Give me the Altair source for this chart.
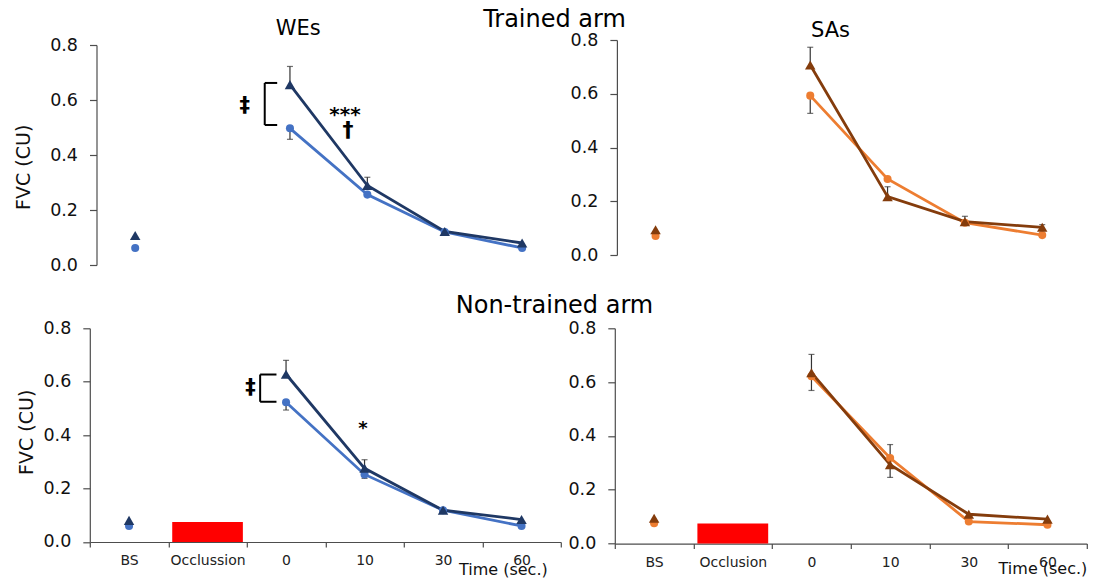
import altair as alt
import pandas as pd

FONT = "DejaVu Sans"
AX = "#4d4d4d"
ERR = "#333333"

# ---------------- data ----------------
x_positions = [0, 1, 2, 3, 4, 5]
labels_we = ["BS", "Occlussion", "0", "10", "30", "60"]
labels_sa = ["BS", "Occlusion", "0", "10", "30", "60"]
y_ticks = [0.0, 0.2, 0.4, 0.6, 0.8]

# Trained arm - WEs (triangles: dark navy, circles: light blue)
we_trained_tri = [0.107, None, 0.656, 0.289, 0.122, 0.080]
we_trained_circ = [0.062, None, 0.497, 0.256, 0.120, 0.062]
we_trained_tri_err = [None, None, 0.066, 0.030, None, None]      # + up / - down
we_trained_circ_err = [None, None, -0.040, None, None, None]

# Trained arm - SAs (triangles: brown, circles: orange)
sa_trained_tri = [0.094, None, 0.707, 0.217, 0.124, 0.103]
sa_trained_circ = [0.071, None, 0.593, 0.283, 0.120, 0.074]
sa_trained_tri_err = [None, None, 0.066, 0.037, 0.020, 0.010]
sa_trained_circ_err = [None, None, -0.066, None, None, None]

# Non-trained arm - WEs
we_non_tri = [0.081, None, 0.628, 0.276, 0.119, 0.084]
we_non_circ = [0.060, None, 0.523, 0.253, 0.119, 0.060]
we_non_tri_err = [None, None, 0.052, 0.032, None, None]
we_non_circ_err = [None, None, -0.029, -0.015, None, None]

# Non-trained arm - SAs
sa_non_tri = [0.094, None, 0.635, 0.293, 0.109, 0.091]
sa_non_circ = [0.076, None, 0.622, 0.318, 0.082, 0.070]
sa_non_tri_err = [None, None, 0.068, -0.047, None, None]
sa_non_circ_err = [None, None, -0.053, 0.050, None, None]

# occlusion period (red bar), in category units / FVC units
occlusion_x = [0.55, 1.45]
occlusion_y = [0.0, 0.075]

# significance annotations (category units, FVC units)
we_trained_notes = [("‡", 1.416, 0.578), ("***", 2.71, 0.545), ("†", 2.75, 0.49)]
we_trained_bracket = [1.674, 1.835, 0.662, 0.509]
we_non_notes = [("‡", 1.547, 0.575), ("*", 2.98, 0.423)]
we_non_bracket = [1.67, 1.878, 0.627, 0.525]
note_sizes = {"‡": 21, "***": 20, "†": 22, "*": 18}

DARK_BLUE, LIGHT_BLUE = "#1f3864", "#4472c4"
BROWN, ORANGE = "#843c0c", "#ed7d31"


def series_df(vals, errs):
    rows = []
    for x, v, e in zip(x_positions, vals, errs):
        if v is None:
            continue
        rows.append({"x": x, "y": v, "e": (v + e) if e is not None else None})
    return pd.DataFrame(rows)


def y_axis(offset, title, tx, ty):
    kw = dict(values=y_ticks, format=".1f", tickSize=7, labelPadding=12,
              labelFontSize=17.5, labelColor="#111", labelFont=FONT,
              domainColor=AX, tickColor=AX, domainWidth=1.2, tickWidth=1.2,
              grid=False, labelFlush=False)
    if offset:
        kw["offset"] = offset
    if title:
        kw.update(title=title, titleX=tx, titleY=ty, titleAngle=270,
                  titleAlign="center", titleBaseline="middle", titleFontSize=19,
                  titleFontWeight="normal", titleColor="#111", titleFont=FONT)
    else:
        kw["title"] = None
    return alt.Axis(**kw)


def x_axis(cats, W, tx, ty):
    tick_vals = [p - 0.5 for p in x_positions] + [x_positions[-1] + 0.5]
    expr = ("datum.value < 0 ? '' : [" + ",".join("'" + c + "'" for c in cats)
            + "][round(datum.value - 0.5)]")
    return alt.Axis(values=tick_vals, labelExpr=expr, labelOffset=-W / 12.0,
                    tickSize=5, labelPadding=6.5, labelFontSize=14, labelColor="#222",
                    labelFont=FONT, labelFlush=False, labelOverlap=False,
                    domainColor=AX, tickColor=AX, domainWidth=1.2, tickWidth=1.2,
                    grid=False, title="Time (sec.)", titleX=tx, titleY=ty,
                    titleAlign="right", titleBaseline="alphabetic", titleFontSize=16,
                    titleFontWeight="normal", titleColor="#111", titleFont=FONT)


def header(text, px, py, size):
    return alt.Chart(pd.DataFrame({"t": [text]})).mark_text(
        font=FONT, fontSize=size, baseline="alphabetic", align="center",
        color="#000").encode(text="t:N", x=alt.value(px), y=alt.value(py))


def panel(tri, tri_err, circ, circ_err, c_dark, c_light, g, cats=None,
          notes=None, bracket=None, heads=()):
    xs = alt.Scale(domain=[-0.5, 5.5], range=g["xrange"], nice=False, zero=False)
    ys = alt.Scale(domain=[0, 0.8], range=g["yrange"], nice=False, zero=False)
    xax = x_axis(cats, g["W"], g["tx"], g["ty"]) if cats else None
    yax = y_axis(g.get("yoff", 0), g.get("ytitle"), g.get("ytx"), g.get("yty"))
    x_enc = alt.X("x:Q", scale=xs, axis=xax)
    y_enc = alt.Y("y:Q", scale=ys, axis=yax)
    e_enc = alt.Y("e:Q", scale=ys, axis=yax)

    dtri = series_df(tri, tri_err)
    dcirc = series_df(circ, circ_err)
    layers = []
    if cats:
        occ = pd.DataFrame({"x": [occlusion_x[0]], "x2": [occlusion_x[1]],
                            "y": [occlusion_y[0]], "y2": [occlusion_y[1]]})
        layers.append(alt.Chart(occ).mark_rect(color="#ff0000").encode(
            x=x_enc, x2="x2:Q", y=y_enc, y2="y2:Q"))
    for d, c in ((dcirc, c_light), (dtri, c_dark)):
        layers.append(alt.Chart(d).transform_filter("datum.x >= 2").mark_line(
            color=c, strokeWidth=2.8).encode(x=x_enc, y=y_enc))
    for d in (dcirc, dtri):
        base = alt.Chart(d).transform_filter("isValid(datum.e)")
        layers.append(base.mark_rule(color=ERR, strokeWidth=1.2).encode(
            x=x_enc, y=y_enc, y2="e:Q"))
        layers.append(base.mark_tick(orient="horizontal", size=6, thickness=1.2,
                                     color=ERR).encode(x=x_enc, y=e_enc))
    layers.append(alt.Chart(dcirc).mark_point(shape="circle", filled=True, size=65,
                                              opacity=1, color=c_light).encode(x=x_enc, y=y_enc))
    layers.append(alt.Chart(dtri).mark_point(shape="triangle-up", filled=True, size=110,
                                             opacity=1, color=c_dark).encode(x=x_enc, y=y_enc))
    if bracket:
        xv, xe, yt, yb = bracket
        br = pd.DataFrame({"x": [xv, xv, xv], "x2": [xv, xe, xe],
                           "y": [yt, yt, yb], "y2": [yb, yt, yb]})
        layers.append(alt.Chart(br).mark_rule(color="#000", strokeWidth=2).encode(
            x=x_enc, x2="x2:Q", y=y_enc, y2="y2:Q"))
    if notes:
        nd = pd.DataFrame({"t": [n[0] for n in notes], "x": [n[1] for n in notes],
                           "y": [n[2] for n in notes],
                           "fs": [note_sizes[n[0]] for n in notes]})
        layers.append(alt.Chart(nd).mark_text(fontWeight="bold", color="#000",
                                              baseline="middle", align="center",
                                              font=FONT).encode(
            x=x_enc, y=y_enc, text="t:N", size=alt.Size("fs:Q", scale=None)))
    for h in heads:
        layers.append(header(*h))
    return alt.layer(*layers).properties(width=g["W"], height=g["H"])


# panel geometry (pixels)
g_tl = dict(W=471, H=225, xrange=[6.7, 471], yrange=[225, 5], yoff=-6.7,
            ytitle="FVC (CU)", ytx=-73, yty=126.8)
g_tr = dict(W=466.1, H=215, xrange=[2.1, 466.1], yrange=[215, 0], yoff=-2.1)
g_bl = dict(W=471, H=213.7, xrange=[0, 471], yrange=[213.7, 0],
            ytitle="FVC (CU)", ytx=-63.3, yty=103.5, tx=457.4, ty=32.8)
g_br = dict(W=472, H=215.3, xrange=[0, 472], yrange=[215.3, 0], tx=472, ty=30)

tl = panel(we_trained_tri, we_trained_tri_err, we_trained_circ, we_trained_circ_err,
           DARK_BLUE, LIGHT_BLUE, g_tl, notes=we_trained_notes,
           bracket=we_trained_bracket,
           heads=[("WEs", 208.4, -5, 21), ("Trained arm", 464.7, -12.7, 24)])
tr = panel(sa_trained_tri, sa_trained_tri_err, sa_trained_circ, sa_trained_circ_err,
           BROWN, ORANGE, g_tr, heads=[("SAs", 215.7, -2.7, 21)])
bl = panel(we_non_tri, we_non_tri_err, we_non_circ, we_non_circ_err,
           DARK_BLUE, LIGHT_BLUE, g_bl, cats=labels_we, notes=we_non_notes,
           bracket=we_non_bracket, heads=[("Non-trained arm", 464.7, -15.7, 24)])
br = panel(sa_non_tri, sa_non_tri_err, sa_non_circ, sa_non_circ_err,
           BROWN, ORANGE, g_br, cats=labels_sa)

chart = alt.concat(tl, tr, bl, br, columns=2, bounds="flush",
                   spacing={"row": 63.3, "column": 54}).properties(
    padding={"left": 5.8, "top": 0, "right": 0, "bottom": 0}
).configure(font=FONT).configure_view(stroke=None)

chart.save("out.html", embed_options={"renderer": "svg", "actions": False})
